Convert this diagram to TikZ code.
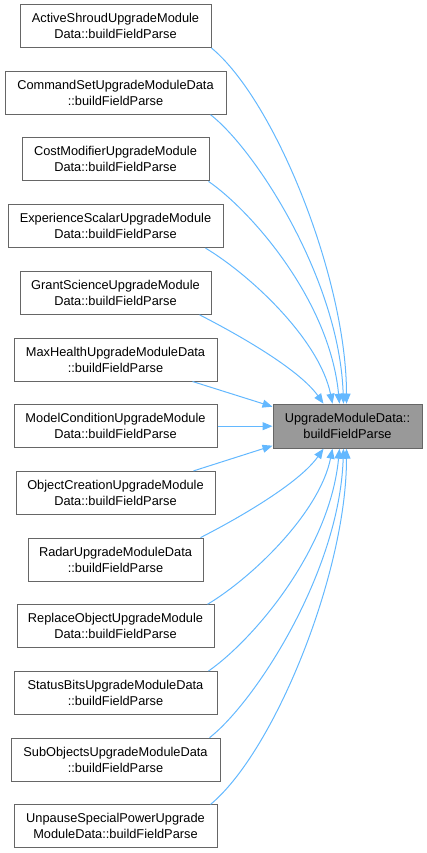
\documentclass[tikz,border=0pt]{standalone}
\usepackage{fontspec}
\setmainfont{Liberation Sans}
\usetikzlibrary{arrows.meta}
\definecolor{edgeblue}{HTML}{63B8FF}
\definecolor{boxborder}{HTML}{666666}
\definecolor{targetfill}{HTML}{999999}
\begin{document}
\begin{tikzpicture}[x=1pt,y=1pt,
  box/.style={draw=boxborder, line width=1pt, fill=white, minimum height=43pt, inner sep=0pt, align=center, font=\fontsize{12.8}{16}\selectfont},
  target/.style={box, fill=targetfill},
  edge/.style={draw=edgeblue, line width=1pt, -{Triangle[length=10pt,width=8pt]}}
]
\useasboundingbox (0,0) rectangle (427,-853);
\node[box, minimum width=191pt] (n1) at (115.5,-26) {ActiveShroudUpgradeModule\\Data::buildFieldParse};
\node[box, minimum width=221pt] (n2) at (115.5,-92.7) {CommandSetUpgradeModuleData\\::buildFieldParse};
\node[box, minimum width=187pt] (n3) at (115.5,-159.4) {CostModifierUpgradeModule\\Data::buildFieldParse};
\node[box, minimum width=215pt] (n4) at (115.5,-226.1) {ExperienceScalarUpgradeModule\\Data::buildFieldParse};
\node[box, minimum width=191pt] (n5) at (115.5,-292.8) {GrantScienceUpgradeModule\\Data::buildFieldParse};
\node[box, minimum width=203pt] (n6) at (115.5,-359.5) {MaxHealthUpgradeModuleData\\::buildFieldParse};
\node[box, minimum width=203pt] (n7) at (115.5,-426.2) {ModelConditionUpgradeModule\\Data::buildFieldParse};
\node[box, minimum width=199pt] (n8) at (115.5,-492.9) {ObjectCreationUpgradeModule\\Data::buildFieldParse};
\node[box, minimum width=175pt] (n9) at (115.5,-559.6) {RadarUpgradeModuleData\\::buildFieldParse};
\node[box, minimum width=197pt] (n10) at (115.5,-626.3) {ReplaceObjectUpgradeModule\\Data::buildFieldParse};
\node[box, minimum width=203pt] (n11) at (115.5,-693) {StatusBitsUpgradeModuleData\\::buildFieldParse};
\node[box, minimum width=209pt] (n12) at (115.5,-759.7) {SubObjectsUpgradeModuleData\\::buildFieldParse};
\node[box, minimum width=203pt] (n13) at (115.5,-826.4) {UnpauseSpecialPowerUpgrade\\ModuleData::buildFieldParse};
\node[target, minimum width=149pt, minimum height=44pt] (t) at (347.5,-426.2) {UpgradeModuleData::\\buildFieldParse};

\draw[edge] (n1.south east) .. controls +(64,-53) and +(0,124) .. ([xshift=74pt]t.north west);
\draw[edge] ([xshift=-16pt]n2.south east) .. controls +(45,-35) and +(-4,124) .. ([xshift=71pt]t.north west);
\draw[edge] ([xshift=-1pt]n3.south east) .. controls +(42,-29) and +(-10,104) .. ([xshift=67pt]t.north west);
\draw[edge] ([xshift=-18pt]n4.south east) .. controls +(45,-27) and +(-13,64) .. ([xshift=60pt]t.north west);
\draw[edge] ([xshift=-12pt]n5.south east) .. controls +(41,-21) and +(-24,34) .. ([xshift=51pt]t.north west);
\draw[edge] ([xshift=-25pt]n6.south east) -- ([yshift=-3pt]t.north west);
\draw[edge] (n7.east) -- (t.west);
\draw[edge] ([xshift=-22pt]n8.north east) -- ([yshift=3pt]t.south west);
\draw[edge] ([xshift=-3pt]n9.north east) .. controls +(41,21) and +(-24,-34) .. ([xshift=51pt]t.south west);
\draw[edge] ([xshift=-7pt]n10.north east) .. controls +(45,27) and +(-13,-64) .. ([xshift=60pt]t.south west);
\draw[edge] ([xshift=-9pt]n11.north east) .. controls +(42,29) and +(-10,-104) .. ([xshift=67pt]t.south west);
\draw[edge] ([xshift=-11pt]n12.north east) .. controls +(45,35) and +(-4,-124) .. ([xshift=71pt]t.south west);
\draw[edge] ([xshift=-7pt]n13.north east) .. controls +(64,53) and +(0,-124) .. ([xshift=74pt]t.south west);
\end{tikzpicture}
\end{document}
